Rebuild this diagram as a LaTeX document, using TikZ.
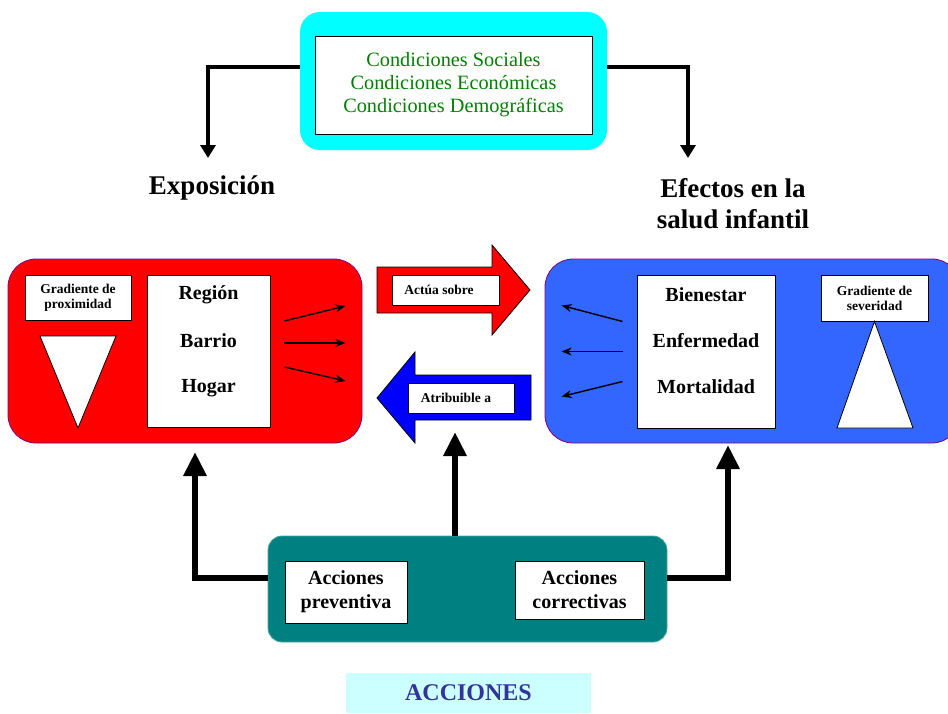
\documentclass[tikz,border=0pt]{standalone}
\usepackage{fontspec}
\setmainfont{Liberation Serif}
\usetikzlibrary{arrows.meta,calc,positioning}
\definecolor{condcyan}{RGB}{0,255,255}
\definecolor{condgreen}{RGB}{0,128,0}
\definecolor{expred}{RGB}{255,0,0}
\definecolor{efblue}{RGB}{51,102,255}
\definecolor{arrblue}{RGB}{0,0,255}
\definecolor{accteal}{RGB}{0,128,128}
\definecolor{accpale}{RGB}{204,255,255}
\definecolor{accnavy}{RGB}{51,51,153}
\definecolor{rimpurple}{RGB}{128,0,128}

\begin{document}
\begin{tikzpicture}[x=1pt,y=-1pt,
  panel/.style={rounded corners=28pt, draw=rimpurple, line width=0.8pt, inner sep=0pt},
  wbox/.style={draw, fill=white, line width=0.8pt, inner sep=0pt},
  bigtxt/.style={font=\fontsize{20}{24}\selectfont\bfseries},
  smalltxt/.style={font=\fontsize{13.5}{15}\selectfont\bfseries, align=center},
  toparrow/.style={line width=4pt, -{Triangle[length=13pt,width=15pt]}},
  botarrow/.style={line width=6pt, -{Triangle[length=24pt,width=22pt]}},
  thinarrow/.style={line width=1.4pt, -{Stealth[length=10pt,width=8pt]}}]
  \clip (0,0) rectangle (948,713);
  % conditions on top
  \node[panel, draw=none, rounded corners=20pt, fill=condcyan, minimum width=307pt, minimum height=138pt] (cond) at (453.5,81) {};
  \node[wbox, minimum width=277pt, minimum height=98pt] (condlist) at (453.5,85) {};
  \node[text=condgreen, align=center, font=\fontsize{20.3}{23}\selectfont] at (condlist) {Condiciones Sociales\\Condiciones Económicas\\Condiciones Demográficas};
  \coordinate (expotip) at (208,158);
  \coordinate (efectip) at (688,158);
  \draw[toparrow] ([yshift=14pt]cond.west) -| (expotip);
  \draw[toparrow] ([yshift=14pt]cond.east) -| (efectip);
  \node[font=\fontsize{27}{31}\selectfont\bfseries] (expo) at (212,188) {Exposición};
  \node[font=\fontsize{27}{31}\selectfont\bfseries, align=center] (efec) at (733,204) {Efectos en la\\salud infantil};
  % exposure panel
  \node[panel, fill=expred, minimum width=354pt, minimum height=184pt] (exp) at (185,351) {};
  \node[wbox, smalltxt, minimum width=106pt, minimum height=45pt] (gprox) at (78,297.5) {Gradiente de\\proximidad};
  \draw[fill=white, line width=0.8pt] (40,336) -- (116,336) -- (78,428) -- cycle;
  \node[wbox, minimum width=123pt, minimum height=152pt] (lugar) at (208.5,351) {};
  \node[bigtxt] at (lugar.north |- 0,295) {Región};
  \node[bigtxt] at (lugar.north |- 0,341) {Barrio};
  \node[bigtxt] at (lugar.north |- 0,388) {Hogar};
  \foreach \a/\b in {30/-15,8/0,-16/14}
    \draw[thinarrow] ([xshift=14pt,yshift=\a pt]lugar.east) -- ++(61,\b);
  % block arrows between panels
  \draw[fill=expred, line width=0.8pt] (377,267) -- (492,267) -- (492,245) -- (530,290) -- (492,335) -- (492,313) -- (377,313) -- cycle;
  \node[wbox, minimum width=107pt, minimum height=30pt] (actua) at (445.5,290) {};
  \node[font=\fontsize{13.5}{15}\selectfont\bfseries] at (439,290) {Actúa sobre};
  \draw[fill=arrblue, line width=0.8pt] (377,398) -- (415,352) -- (415,375) -- (531,375) -- (531,420) -- (415,420) -- (415,443) -- cycle;
  \node[wbox, minimum width=106pt, minimum height=30pt] (atrib) at (461,398) {};
  \node[font=\fontsize{13.5}{15}\selectfont\bfseries] at (456,398) {Atribuible a};
  % health effects panel
  \node[panel, fill=efblue, minimum width=415pt, minimum height=184pt] (efe) at (752.5,351) {};
  \node[wbox, minimum width=138pt, minimum height=153pt] (salud) at (706,351.5) {};
  \node[bigtxt] at (salud.north |- 0,295) {Bienestar};
  \node[bigtxt] at (salud.north |- 0,341) {Enfermedad};
  \node[bigtxt] at (salud.north |- 0,387) {Mortalidad};
  \node[wbox, smalltxt, minimum width=107pt, minimum height=46pt] (gsev) at (874.5,298) {Gradiente de\\severidad};
  \draw[fill=white, line width=0.8pt] (gsev.south) -- (913,428) -- (837,428) -- cycle;
  \foreach \a/\b in {30/-16,0/0,-30/15}
    \draw[thinarrow] ([xshift=-14pt,yshift=\a pt]salud.west) -- ++(-61,\b);
  % actions
  \node[panel, rounded corners=14pt, draw=accteal!70, fill=accteal, minimum width=399pt, minimum height=106pt] (acc) at (467.5,589) {};
  \node[wbox, font=\fontsize{20}{24}\selectfont\bfseries, align=center, minimum width=122pt, minimum height=62pt] (prev) at (346,592) {Acciones\\preventiva};
  \node[wbox, font=\fontsize{20}{24}\selectfont\bfseries, align=center, minimum width=129pt, minimum height=58pt] (corr) at (579.5,590) {Acciones\\correctivas};
  \coordinate (tipL) at (195,452);
  \coordinate (tipM) at (455,432);
  \coordinate (tipR) at (728,445);
  \draw[botarrow] ([yshift=11pt]acc.west) -| (tipL);
  \draw[botarrow] (acc.north -| tipM) -- (tipM);
  \draw[botarrow] ([yshift=11pt]acc.east) -| (tipR);
  \node[fill=accpale, text=accnavy, font=\fontsize{24}{28}\selectfont\bfseries, minimum width=245pt, minimum height=40pt] (accl) at (468.5,693) {ACCIONES};
\end{tikzpicture}
\end{document}
